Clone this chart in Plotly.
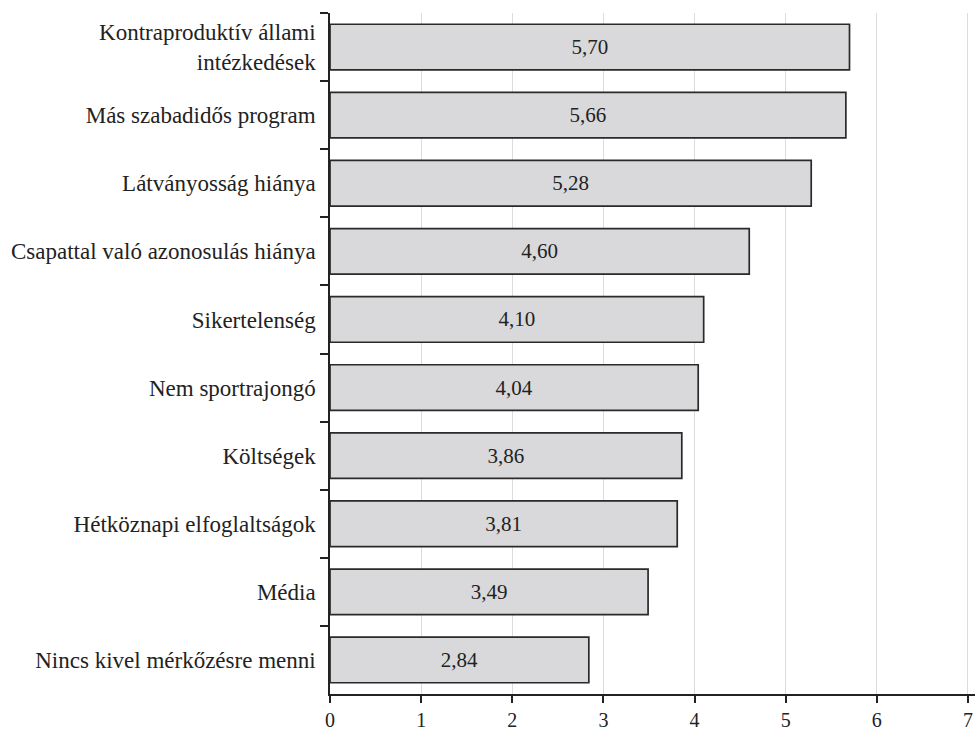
import plotly.graph_objects as go

categories = [
    "Kontraproduktív állami<br>intézkedések",
    "Más szabadidős program",
    "Látványosság hiánya",
    "Csapattal való azonosulás hiánya",
    "Sikertelenség",
    "Nem sportrajongó",
    "Költségek",
    "Hétköznapi elfoglaltságok",
    "Média",
    "Nincs kivel mérkőzésre menni",
]
values = [5.70, 5.66, 5.28, 4.60, 4.10, 4.04, 3.86, 3.81, 3.49, 2.84]
x_ticks = [0, 1, 2, 3, 4, 5, 6, 7]

labels = [f"{v:.2f}".replace(".", ",") for v in values]

font_family = "Liberation Serif, DejaVu Serif, serif"

fig = go.Figure(
    go.Bar(
        y=categories,
        x=values,
        orientation="h",
        text=labels,
        textposition="inside",
        insidetextanchor="middle",
        textangle=0,
        textfont=dict(family=font_family, size=21, color="#222"),
        marker=dict(color="#d9d9db", line=dict(color="#2a2a2a", width=1.7)),
        width=0.67,
    )
)

fig.update_layout(
    width=975,
    height=731,
    margin=dict(l=330, r=0, t=13, b=34),
    paper_bgcolor="white",
    plot_bgcolor="white",
    font=dict(family=font_family, size=21, color="#222"),
    showlegend=False,
)

fig.update_xaxes(
    range=[0, 7.077],
    tickvals=x_ticks,
    ticktext=[str(t) for t in x_ticks],
    showgrid=True,
    gridcolor="#dcdcdc",
    gridwidth=1.2,
    showline=True,
    linecolor="#222",
    linewidth=1.5,
    ticks="outside",
    ticklen=7,
    tickcolor="#222",
    tickwidth=1.5,
    tickfont=dict(family=font_family, size=20, color="#222"),
    zeroline=False,
)

fig.update_yaxes(
    autorange="reversed",
    showgrid=False,
    showline=True,
    linecolor="#222",
    linewidth=1.5,
    ticks="outside",
    tickson="boundaries",
    ticklen=8,
    tickcolor="#222",
    tickwidth=1.5,
    ticklabelstandoff=8,
    tickfont=dict(family=font_family, size=23, color="#222"),
)

fig.write_html(
    "out.html",
    config={"displayModeBar": False},
    post_script="document.body.style.margin='0';document.body.style.padding='0';",
)
